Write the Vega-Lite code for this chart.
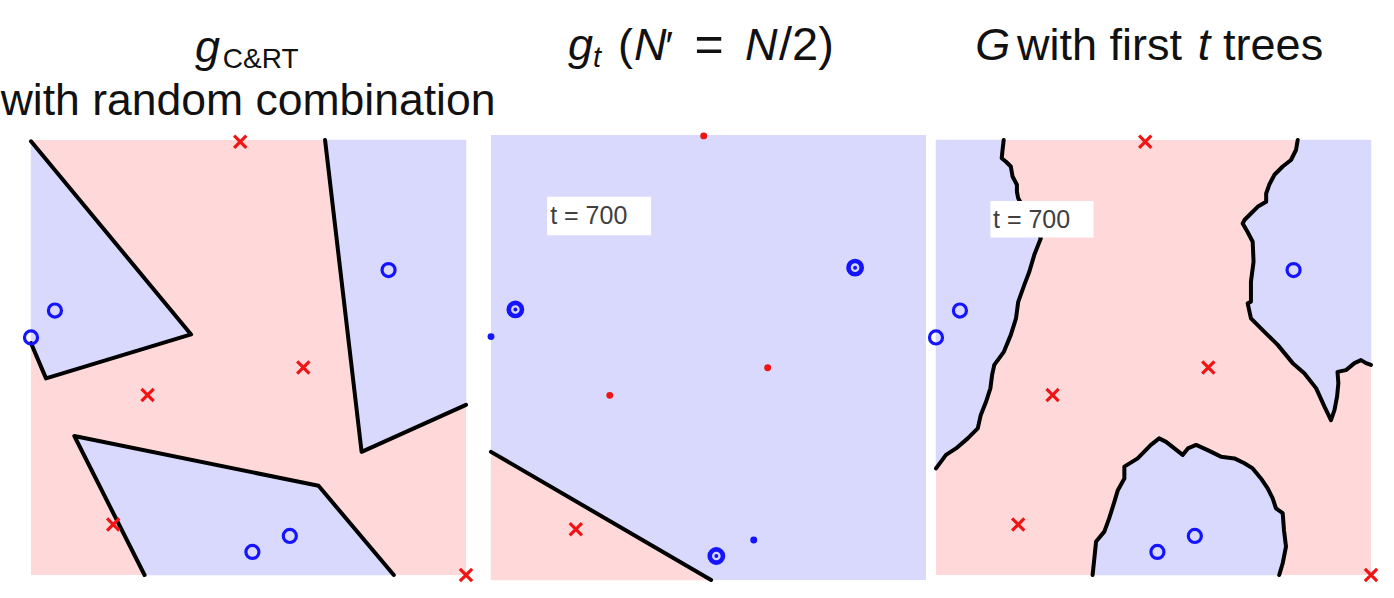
{
  "$schema": "https://vega.github.io/schema/vega-lite/v6.json",
  "padding": 0,
  "spacing": 0,
  "bounds": "flush",
  "background": "white",
  "config": {"view": {"stroke": null}, "text": {"font": "Liberation Sans"}},
  "datasets": {
    "poly": [
      {"p":1,"g":"a","i":1,"x":0.0,"y":0.997},
      {"p":1,"g":"a","i":2,"x":0.368,"y":0.553},
      {"p":1,"g":"a","i":3,"x":0.0345,"y":0.452},
      {"p":1,"g":"a","i":4,"x":0.0,"y":0.533},
      {"p":1,"g":"b","i":1,"x":0.676,"y":1.0},
      {"p":1,"g":"b","i":2,"x":0.760,"y":0.283},
      {"p":1,"g":"b","i":3,"x":1.0,"y":0.391},
      {"p":1,"g":"b","i":4,"x":1.0,"y":1.0,"b":0},
      {"p":1,"g":"c","i":1,"x":0.261,"y":0.0},
      {"p":1,"g":"c","i":2,"x":0.0996,"y":0.3195},
      {"p":1,"g":"c","i":3,"x":0.661,"y":0.205},
      {"p":1,"g":"c","i":4,"x":0.834,"y":0.0},
      {"p":2,"g":"d","i":1,"x":0.0,"y":0.288},
      {"p":2,"g":"d","i":2,"x":0.506,"y":0.0},
      {"p":2,"g":"d","i":3,"x":0.0,"y":0.0,"b":0},
      {"p":3,"g":"e","i":1,"x":0.1556,"y":1.0},
      {"p":3,"g":"e","i":2,"x":0.153,"y":0.977},
      {"p":3,"g":"e","i":3,"x":0.151,"y":0.958},
      {"p":3,"g":"e","i":4,"x":0.161,"y":0.950},
      {"p":3,"g":"e","i":5,"x":0.172,"y":0.939},
      {"p":3,"g":"e","i":6,"x":0.176,"y":0.916},
      {"p":3,"g":"e","i":7,"x":0.186,"y":0.897},
      {"p":3,"g":"e","i":8,"x":0.186,"y":0.881},
      {"p":3,"g":"e","i":9,"x":0.189,"y":0.866},
      {"p":3,"g":"e","i":10,"x":0.218,"y":0.816},
      {"p":3,"g":"e","i":11,"x":0.241,"y":0.774},
      {"p":3,"g":"e","i":12,"x":0.226,"y":0.736},
      {"p":3,"g":"e","i":13,"x":0.2145,"y":0.697},
      {"p":3,"g":"e","i":14,"x":0.203,"y":0.667},
      {"p":3,"g":"e","i":15,"x":0.189,"y":0.628},
      {"p":3,"g":"e","i":16,"x":0.184,"y":0.590},
      {"p":3,"g":"e","i":17,"x":0.172,"y":0.552},
      {"p":3,"g":"e","i":18,"x":0.156,"y":0.513},
      {"p":3,"g":"e","i":19,"x":0.134,"y":0.483},
      {"p":3,"g":"e","i":20,"x":0.129,"y":0.460},
      {"p":3,"g":"e","i":21,"x":0.125,"y":0.429},
      {"p":3,"g":"e","i":22,"x":0.115,"y":0.398},
      {"p":3,"g":"e","i":23,"x":0.103,"y":0.368},
      {"p":3,"g":"e","i":24,"x":0.096,"y":0.337},
      {"p":3,"g":"e","i":25,"x":0.073,"y":0.314},
      {"p":3,"g":"e","i":26,"x":0.046,"y":0.291},
      {"p":3,"g":"e","i":27,"x":0.023,"y":0.276},
      {"p":3,"g":"e","i":28,"x":0.0,"y":0.245},
      {"p":3,"g":"e","i":29,"x":0.0,"y":1.0,"b":0},
      {"p":3,"g":"f","i":1,"x":0.8315,"y":1.0},
      {"p":3,"g":"f","i":2,"x":0.8276,"y":0.977},
      {"p":3,"g":"f","i":3,"x":0.816,"y":0.954},
      {"p":3,"g":"f","i":4,"x":0.797,"y":0.939},
      {"p":3,"g":"f","i":5,"x":0.778,"y":0.920},
      {"p":3,"g":"f","i":6,"x":0.766,"y":0.897},
      {"p":3,"g":"f","i":7,"x":0.759,"y":0.877},
      {"p":3,"g":"f","i":8,"x":0.759,"y":0.858},
      {"p":3,"g":"f","i":9,"x":0.740,"y":0.847},
      {"p":3,"g":"f","i":10,"x":0.724,"y":0.831},
      {"p":3,"g":"f","i":11,"x":0.709,"y":0.816},
      {"p":3,"g":"f","i":12,"x":0.705,"y":0.808},
      {"p":3,"g":"f","i":13,"x":0.716,"y":0.789},
      {"p":3,"g":"f","i":14,"x":0.728,"y":0.766},
      {"p":3,"g":"f","i":15,"x":0.730,"y":0.720},
      {"p":3,"g":"f","i":16,"x":0.724,"y":0.674},
      {"p":3,"g":"f","i":17,"x":0.724,"y":0.628},
      {"p":3,"g":"f","i":18,"x":0.7165,"y":0.6245},
      {"p":3,"g":"f","i":19,"x":0.724,"y":0.590},
      {"p":3,"g":"f","i":20,"x":0.755,"y":0.559},
      {"p":3,"g":"f","i":21,"x":0.7855,"y":0.529},
      {"p":3,"g":"f","i":22,"x":0.820,"y":0.487},
      {"p":3,"g":"f","i":23,"x":0.8467,"y":0.464},
      {"p":3,"g":"f","i":24,"x":0.874,"y":0.429},
      {"p":3,"g":"f","i":25,"x":0.893,"y":0.387},
      {"p":3,"g":"f","i":26,"x":0.908,"y":0.356},
      {"p":3,"g":"f","i":27,"x":0.916,"y":0.379},
      {"p":3,"g":"f","i":28,"x":0.922,"y":0.410},
      {"p":3,"g":"f","i":29,"x":0.925,"y":0.441},
      {"p":3,"g":"f","i":30,"x":0.923,"y":0.467},
      {"p":3,"g":"f","i":31,"x":0.9425,"y":0.471},
      {"p":3,"g":"f","i":32,"x":0.962,"y":0.487},
      {"p":3,"g":"f","i":33,"x":0.977,"y":0.494},
      {"p":3,"g":"f","i":34,"x":0.9885,"y":0.487},
      {"p":3,"g":"f","i":35,"x":1.0,"y":0.483},
      {"p":3,"g":"f","i":36,"x":1.0,"y":1.0,"b":0},
      {"p":3,"g":"h","i":1,"x":0.360,"y":0.0},
      {"p":3,"g":"h","i":2,"x":0.364,"y":0.038},
      {"p":3,"g":"h","i":3,"x":0.368,"y":0.077},
      {"p":3,"g":"h","i":4,"x":0.387,"y":0.0996},
      {"p":3,"g":"h","i":5,"x":0.398,"y":0.130},
      {"p":3,"g":"h","i":6,"x":0.410,"y":0.168},
      {"p":3,"g":"h","i":7,"x":0.418,"y":0.195},
      {"p":3,"g":"h","i":8,"x":0.433,"y":0.222},
      {"p":3,"g":"h","i":9,"x":0.433,"y":0.249},
      {"p":3,"g":"h","i":10,"x":0.4636,"y":0.268},
      {"p":3,"g":"h","i":11,"x":0.494,"y":0.299},
      {"p":3,"g":"h","i":12,"x":0.513,"y":0.314},
      {"p":3,"g":"h","i":13,"x":0.529,"y":0.306},
      {"p":3,"g":"h","i":14,"x":0.548,"y":0.291},
      {"p":3,"g":"h","i":15,"x":0.567,"y":0.276},
      {"p":3,"g":"h","i":16,"x":0.579,"y":0.291},
      {"p":3,"g":"h","i":17,"x":0.598,"y":0.299},
      {"p":3,"g":"h","i":18,"x":0.6245,"y":0.287},
      {"p":3,"g":"h","i":19,"x":0.655,"y":0.272},
      {"p":3,"g":"h","i":20,"x":0.686,"y":0.268},
      {"p":3,"g":"h","i":21,"x":0.709,"y":0.257},
      {"p":3,"g":"h","i":22,"x":0.728,"y":0.245},
      {"p":3,"g":"h","i":23,"x":0.747,"y":0.222},
      {"p":3,"g":"h","i":24,"x":0.7625,"y":0.199},
      {"p":3,"g":"h","i":25,"x":0.774,"y":0.176},
      {"p":3,"g":"h","i":26,"x":0.7816,"y":0.153},
      {"p":3,"g":"h","i":27,"x":0.797,"y":0.142},
      {"p":3,"g":"h","i":28,"x":0.800,"y":0.103},
      {"p":3,"g":"h","i":29,"x":0.8046,"y":0.065},
      {"p":3,"g":"h","i":30,"x":0.797,"y":0.027},
      {"p":3,"g":"h","i":31,"x":0.789,"y":0.0}
    ],
    "train": [
      {"k":"o","x":0.055,"y":0.608},
      {"k":"o","x":0.0,"y":0.546},
      {"k":"o","x":0.822,"y":0.701},
      {"k":"o","x":0.595,"y":0.0897},
      {"k":"o","x":0.509,"y":0.053},
      {"k":"x","x":0.481,"y":0.996},
      {"k":"x","x":0.626,"y":0.477},
      {"k":"x","x":0.268,"y":0.414},
      {"k":"x","x":0.189,"y":0.116},
      {"k":"x","x":1.0,"y":0.0}
    ],
    "boot": [
      {"k":"O","x":0.837,"y":0.702},
      {"k":"O","x":0.056,"y":0.608},
      {"k":"O","x":0.518,"y":0.054},
      {"k":"db","x":0.0,"y":0.547},
      {"k":"db","x":0.604,"y":0.090},
      {"k":"dr","x":0.489,"y":0.998},
      {"k":"dr","x":0.636,"y":0.477},
      {"k":"dr","x":0.273,"y":0.415},
      {"k":"x","x":0.195,"y":0.114}
    ]
  },
  "hconcat": [
    {
      "width": 478,
      "height": 598,
      "layer": [
        {"data": {"values": [{}]}, "mark": {"type": "rect", "color": "#ffd9da"},
         "encoding": {
           "x": {"datum": 0, "type": "quantitative", "axis": null, "scale": {"domain": [-0.06897, 1.02989], "nice": false, "zero": false}},
           "x2": {"datum": 1},
           "y": {"datum": 0, "type": "quantitative", "axis": null, "scale": {"domain": [-0.0529, 1.3218], "nice": false, "zero": false}},
           "y2": {"datum": 1}}},
        {"data": {"name": "poly"}, "transform": [{"filter": "datum.p == 1"}],
         "mark": {"type": "line", "interpolate": "linear-closed", "fill": "#d8d9fc", "stroke": "#d8d9fc", "strokeWidth": 0.5},
         "encoding": {"x": {"field": "x", "type": "quantitative"}, "y": {"field": "y", "type": "quantitative"}, "detail": {"field": "g"}, "order": {"field": "i", "type": "quantitative"}}},
        {"data": {"name": "poly"}, "transform": [{"filter": "datum.p == 1 && datum.b !== 0"}],
         "mark": {"type": "line", "color": "#000000", "strokeWidth": 4, "strokeJoin": "round", "strokeCap": "round"},
         "encoding": {"x": {"field": "x", "type": "quantitative"}, "y": {"field": "y", "type": "quantitative"}, "detail": {"field": "g"}, "order": {"field": "i", "type": "quantitative"}}},
        {"data": {"name": "train"}, "transform": [{"filter": "datum.k == 'o'"}],
         "mark": {"type": "point", "shape": "circle", "filled": false, "color": "#1414ff", "strokeWidth": 3.2, "size": 170, "opacity": 1},
         "encoding": {"x": {"field": "x", "type": "quantitative"}, "y": {"field": "y", "type": "quantitative"}}},
        {"data": {"name": "train"}, "transform": [{"filter": "datum.k == 'x'"}],
         "mark": {"type": "point", "shape": "M-1,-1L1,1M-1,1L1,-1", "filled": false, "color": "#f01414", "strokeWidth": 3.2, "size": 150, "opacity": 1},
         "encoding": {"x": {"field": "x", "type": "quantitative"}, "y": {"field": "y", "type": "quantitative"}}},
        {"data": {"values": [{}]}, "mark": {"type": "text", "text": "g", "fontStyle": "italic", "fontSize": 45, "align": "left", "baseline": "alphabetic", "color": "#111111"},
         "encoding": {"x": {"datum": 0.377, "type": "quantitative"}, "y": {"datum": 1.179, "type": "quantitative"}}},
        {"data": {"values": [{}]}, "mark": {"type": "text", "text": "C&RT", "fontSize": 28, "align": "left", "baseline": "alphabetic", "color": "#111111"},
         "encoding": {"x": {"datum": 0.441, "type": "quantitative"}, "y": {"datum": 1.166, "type": "quantitative"}}},
        {"data": {"values": [{}]}, "mark": {"type": "text", "text": "with random combination", "fontSize": 44.5, "align": "center", "baseline": "alphabetic", "color": "#111111"},
         "encoding": {"x": {"datum": 0.499, "type": "quantitative"}, "y": {"datum": 1.057, "type": "quantitative"}}}
      ]
    },
    {
      "width": 452,
      "height": 598,
      "layer": [
        {"data": {"values": [{}]}, "mark": {"type": "rect", "color": "#d8d9fc"},
         "encoding": {
           "x": {"datum": 0, "type": "quantitative", "axis": null, "scale": {"domain": [-0.02759, 1.01149], "nice": false, "zero": false}},
           "x2": {"datum": 1},
           "y": {"datum": 0, "type": "quantitative", "axis": null, "scale": {"domain": [-0.0404, 1.3034], "nice": false, "zero": false}},
           "y2": {"datum": 1}}},
        {"data": {"name": "poly"}, "transform": [{"filter": "datum.p == 2"}],
         "mark": {"type": "line", "interpolate": "linear-closed", "fill": "#ffd9da", "stroke": "#ffd9da", "strokeWidth": 0.5},
         "encoding": {"x": {"field": "x", "type": "quantitative"}, "y": {"field": "y", "type": "quantitative"}, "detail": {"field": "g"}, "order": {"field": "i", "type": "quantitative"}}},
        {"data": {"name": "poly"}, "transform": [{"filter": "datum.p == 2 && datum.b !== 0"}],
         "mark": {"type": "line", "color": "#000000", "strokeWidth": 4, "strokeJoin": "round", "strokeCap": "round"},
         "encoding": {"x": {"field": "x", "type": "quantitative"}, "y": {"field": "y", "type": "quantitative"}, "detail": {"field": "g"}, "order": {"field": "i", "type": "quantitative"}}},
        {"data": {"values": [{}]}, "mark": {"type": "rect", "color": "#ffffff"},
         "encoding": {"x": {"datum": 0.129, "type": "quantitative"}, "x2": {"datum": 0.368}, "y": {"datum": 0.775, "type": "quantitative"}, "y2": {"datum": 0.861}}},
        {"data": {"values": [{}]}, "mark": {"type": "text", "text": "t = 700", "fontSize": 25, "align": "left", "baseline": "middle", "color": "#404040"},
         "encoding": {"x": {"datum": 0.136, "type": "quantitative"}, "y": {"datum": 0.817, "type": "quantitative"}}},
        {"data": {"name": "boot"}, "transform": [{"filter": "datum.k == 'O'"}],
         "mark": {"type": "point", "shape": "circle", "filled": false, "color": "#1414ff", "strokeWidth": 4.6, "size": 175, "opacity": 1},
         "encoding": {"x": {"field": "x", "type": "quantitative"}, "y": {"field": "y", "type": "quantitative"}}},
        {"data": {"name": "boot"}, "transform": [{"filter": "datum.k == 'O'"}],
         "mark": {"type": "point", "shape": "circle", "filled": true, "color": "#1414ff", "size": 16, "opacity": 1},
         "encoding": {"x": {"field": "x", "type": "quantitative"}, "y": {"field": "y", "type": "quantitative"}}},
        {"data": {"name": "boot"}, "transform": [{"filter": "datum.k == 'db'"}],
         "mark": {"type": "point", "shape": "circle", "filled": true, "color": "#1414ff", "size": 48, "opacity": 1},
         "encoding": {"x": {"field": "x", "type": "quantitative"}, "y": {"field": "y", "type": "quantitative"}}},
        {"data": {"name": "boot"}, "transform": [{"filter": "datum.k == 'dr'"}],
         "mark": {"type": "point", "shape": "circle", "filled": true, "color": "#f01414", "size": 48, "opacity": 1},
         "encoding": {"x": {"field": "x", "type": "quantitative"}, "y": {"field": "y", "type": "quantitative"}}},
        {"data": {"name": "boot"}, "transform": [{"filter": "datum.k == 'x'"}],
         "mark": {"type": "point", "shape": "M-1,-1L1,1M-1,1L1,-1", "filled": false, "color": "#f01414", "strokeWidth": 3.2, "size": 150, "opacity": 1},
         "encoding": {"x": {"field": "x", "type": "quantitative"}, "y": {"field": "y", "type": "quantitative"}}},
        {"data": {"values": [{}]}, "mark": {"type": "text", "text": "g", "fontStyle": "italic", "fontSize": 45, "align": "left", "baseline": "alphabetic", "color": "#111111"},
         "encoding": {"x": {"datum": 0.177, "type": "quantitative"}, "y": {"datum": 1.1685, "type": "quantitative"}}},
        {"data": {"values": [{}]}, "mark": {"type": "text", "text": "t", "fontStyle": "italic", "fontSize": 29, "align": "left", "baseline": "alphabetic", "color": "#111111"},
         "encoding": {"x": {"datum": 0.2345, "type": "quantitative"}, "y": {"datum": 1.153, "type": "quantitative"}}},
        {"data": {"values": [{}]}, "mark": {"type": "text", "text": "(", "fontSize": 45, "align": "left", "baseline": "alphabetic", "color": "#111111"},
         "encoding": {"x": {"datum": 0.292, "type": "quantitative"}, "y": {"datum": 1.1685, "type": "quantitative"}}},
        {"data": {"values": [{}]}, "mark": {"type": "text", "text": "N", "fontStyle": "italic", "fontSize": 45, "align": "left", "baseline": "alphabetic", "color": "#111111"},
         "encoding": {"x": {"datum": 0.329, "type": "quantitative"}, "y": {"datum": 1.1685, "type": "quantitative"}}},
        {"data": {"values": [{}]}, "mark": {"type": "text", "text": "′", "fontSize": 40, "align": "left", "baseline": "alphabetic", "color": "#111111"},
         "encoding": {"x": {"datum": 0.401, "type": "quantitative"}, "y": {"datum": 1.1685, "type": "quantitative"}}},
        {"data": {"values": [{}]}, "mark": {"type": "text", "text": "=", "fontSize": 50, "align": "left", "baseline": "alphabetic", "color": "#111111"},
         "encoding": {"x": {"datum": 0.468, "type": "quantitative"}, "y": {"datum": 1.166, "type": "quantitative"}}},
        {"data": {"values": [{}]}, "mark": {"type": "text", "text": "N", "fontStyle": "italic", "fontSize": 45, "align": "left", "baseline": "alphabetic", "color": "#111111"},
         "encoding": {"x": {"datum": 0.584, "type": "quantitative"}, "y": {"datum": 1.1685, "type": "quantitative"}}},
        {"data": {"values": [{}]}, "mark": {"type": "text", "text": "/2)", "fontSize": 47, "align": "left", "baseline": "alphabetic", "color": "#111111"},
         "encoding": {"x": {"datum": 0.662, "type": "quantitative"}, "y": {"datum": 1.1685, "type": "quantitative"}}}
      ]
    },
    {
      "width": 464,
      "height": 598,
      "layer": [
        {"data": {"values": [{}]}, "mark": {"type": "rect", "color": "#ffd9da"},
         "encoding": {
           "x": {"datum": 0, "type": "quantitative", "axis": null, "scale": {"domain": [-0.01149, 1.05517], "nice": false, "zero": false}},
           "x2": {"datum": 1},
           "y": {"datum": 0, "type": "quantitative", "axis": null, "scale": {"domain": [-0.0529, 1.3218], "nice": false, "zero": false}},
           "y2": {"datum": 1}}},
        {"data": {"name": "poly"}, "transform": [{"filter": "datum.p == 3"}],
         "mark": {"type": "line", "interpolate": "linear-closed", "fill": "#d8d9fc", "stroke": "#d8d9fc", "strokeWidth": 0.5},
         "encoding": {"x": {"field": "x", "type": "quantitative"}, "y": {"field": "y", "type": "quantitative"}, "detail": {"field": "g"}, "order": {"field": "i", "type": "quantitative"}}},
        {"data": {"name": "poly"}, "transform": [{"filter": "datum.p == 3 && datum.b !== 0"}],
         "mark": {"type": "line", "color": "#000000", "strokeWidth": 4, "strokeJoin": "round", "strokeCap": "round"},
         "encoding": {"x": {"field": "x", "type": "quantitative"}, "y": {"field": "y", "type": "quantitative"}, "detail": {"field": "g"}, "order": {"field": "i", "type": "quantitative"}}},
        {"data": {"values": [{}]}, "mark": {"type": "rect", "color": "#ffffff"},
         "encoding": {"x": {"datum": 0.125, "type": "quantitative"}, "x2": {"datum": 0.362}, "y": {"datum": 0.776, "type": "quantitative"}, "y2": {"datum": 0.860}}},
        {"data": {"values": [{}]}, "mark": {"type": "text", "text": "t = 700", "fontSize": 25, "align": "left", "baseline": "middle", "color": "#404040"},
         "encoding": {"x": {"datum": 0.131, "type": "quantitative"}, "y": {"datum": 0.817, "type": "quantitative"}}},
        {"data": {"name": "train"}, "transform": [{"filter": "datum.k == 'o'"}],
         "mark": {"type": "point", "shape": "circle", "filled": false, "color": "#1414ff", "strokeWidth": 3.2, "size": 170, "opacity": 1},
         "encoding": {"x": {"field": "x", "type": "quantitative"}, "y": {"field": "y", "type": "quantitative"}}},
        {"data": {"name": "train"}, "transform": [{"filter": "datum.k == 'x'"}],
         "mark": {"type": "point", "shape": "M-1,-1L1,1M-1,1L1,-1", "filled": false, "color": "#f01414", "strokeWidth": 3.2, "size": 150, "opacity": 1},
         "encoding": {"x": {"field": "x", "type": "quantitative"}, "y": {"field": "y", "type": "quantitative"}}},
        {"data": {"values": [{}]}, "mark": {"type": "text", "text": "G", "fontStyle": "italic", "fontSize": 45, "align": "left", "baseline": "alphabetic", "color": "#111111"},
         "encoding": {"x": {"datum": 0.090, "type": "quantitative"}, "y": {"datum": 1.184, "type": "quantitative"}}},
        {"data": {"values": [{}]}, "mark": {"type": "text", "text": "with first", "fontSize": 45, "align": "left", "baseline": "alphabetic", "color": "#111111"},
         "encoding": {"x": {"datum": 0.186, "type": "quantitative"}, "y": {"datum": 1.184, "type": "quantitative"}}},
        {"data": {"values": [{}]}, "mark": {"type": "text", "text": "t", "fontStyle": "italic", "fontSize": 45, "align": "left", "baseline": "alphabetic", "color": "#111111"},
         "encoding": {"x": {"datum": 0.602, "type": "quantitative"}, "y": {"datum": 1.184, "type": "quantitative"}}},
        {"data": {"values": [{}]}, "mark": {"type": "text", "text": "trees", "fontSize": 45, "align": "left", "baseline": "alphabetic", "color": "#111111"},
         "encoding": {"x": {"datum": 0.66, "type": "quantitative"}, "y": {"datum": 1.184, "type": "quantitative"}}}
      ]
    }
  ]
}
